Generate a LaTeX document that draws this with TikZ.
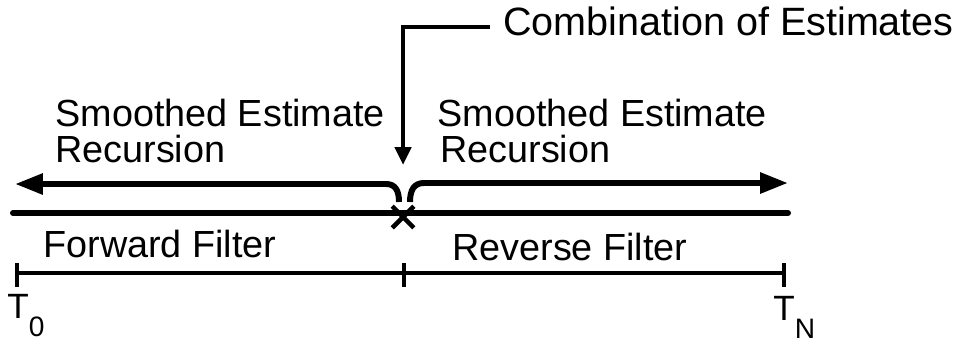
\documentclass[tikz,border=0pt]{standalone}
\usepackage{fontspec}
\setmainfont{Liberation Sans}
\usetikzlibrary{arrows.meta,shapes.misc}
\newcommand{\tsub}[1]{\raisebox{-0.36cm}{\fontsize{16}{16}\selectfont #1}}

\begin{document}
\begin{tikzpicture}[x=0.02cm,y=-0.02cm,
 lbl/.style={inner sep=0pt,anchor=base west,font=\fontsize{21.5}{22}\selectfont},
 tlbl/.style={inner sep=0pt,anchor=base west,font=\fontsize{20}{20}\selectfont},
 recur/.style={line width=3.4pt,-{Triangle[length=0.56cm,width=0.4cm]}},
 axis/.style={line width=3.4pt,line cap=round},
 span/.style={line width=2pt},
 pointer/.style={line width=2.8pt,-{Triangle[length=0.36cm,width=0.32cm]}}]
 \useasboundingbox (0,0) rectangle (972,343);
 % labels
 \node[lbl,font=\fontsize{22.5}{22}\selectfont] (comb) at (503,35) {Combination of Estimates};
 \node[lbl] (lsm) at (55,126) {Smoothed Estimate};
 \node[lbl] (lrec) at (55,162) {Recursion};
 \node[lbl] (rsm) at (437,126) {Smoothed Estimate};
 \node[lbl] (rrec) at (440,162) {Recursion};
 \node[lbl] (fwd) at (43,257) {Forward Filter};
 \node[lbl] (rev) at (452,260) {Reverse Filter};
 \node[tlbl] (t0) at (7,318) {T\tsub{0}};
 \node[tlbl] (tn) at (773,320) {T\tsub{N}};
 % time axis with the combination point
 \coordinate (ax0) at (13,213); \coordinate (ax1) at (788,213);
 \draw[axis] (ax0) -- (ax1);
 \node[draw,cross out,line width=2.6pt,minimum size=0.34cm,inner sep=0pt] (xm) at (403,217) {};
 % recursions
 \coordinate (lb) at (399,202); \coordinate (ltip) at (15,184);
 \draw[recur] (lb) .. controls (399,190) and (395,184) .. (386,184) -- (ltip);
 \coordinate (rb) at (410,202); \coordinate (rtip) at (788,183);
 \draw[recur] (rb) .. controls (410,190) and (414,183) .. (424,183) -- (rtip);
 \coordinate (cbtip) at (403,165);
 \draw[pointer] ([shift={(-0.26cm,0.16cm)}]comb.base west) -| (cbtip);
 % filter spans
 \coordinate (s0) at (17,273); \coordinate (s1) at (404,273); \coordinate (s2) at (784,273);
 \draw[span] (s0) -- (s2);
 \foreach \s in {s0,s1,s2} \draw[span] ([yshift=0.2cm]\s) -- ([yshift=-0.28cm]\s);
\end{tikzpicture}
\end{document}
